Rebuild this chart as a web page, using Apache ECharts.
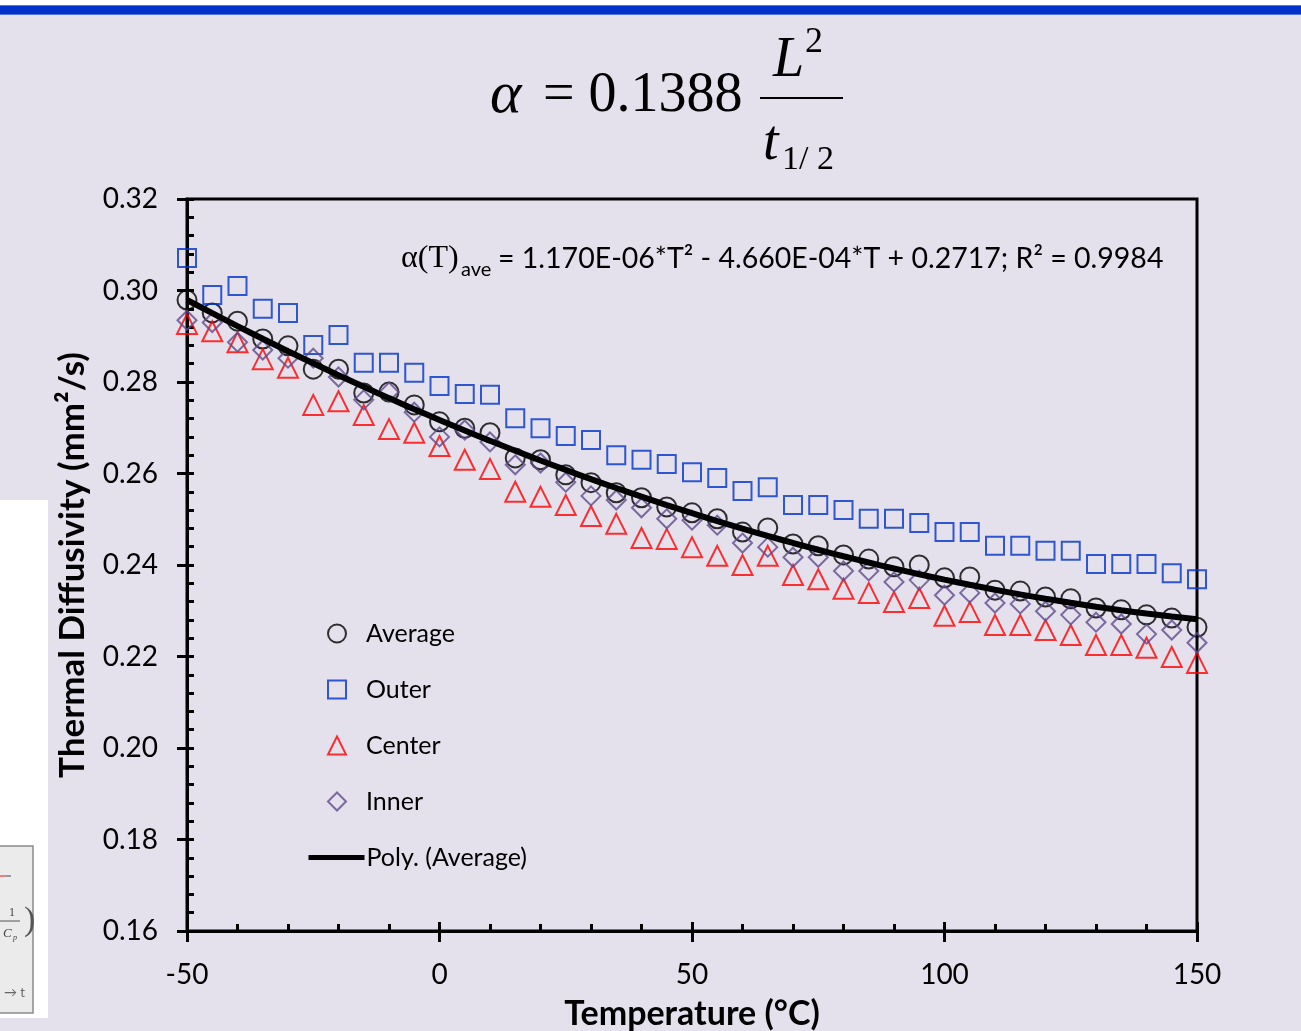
<!DOCTYPE html>
<html>
<head>
<meta charset="utf-8">
<script src="https://cdn.jsdelivr.net/npm/echarts@6/dist/echarts.min.js"></script>
<style>
  html, body { margin: 0; padding: 0; background: #E4E0EC; }
  #chart { width: 1301px; height: 1031px; }
</style>
</head>
<body>
<div id="chart"></div>
<script>
// Temperature steps (°C)
const temperatures = [-50, -45, -40, -35, -30, -25, -20, -15, -10, -5,
  0, 5, 10, 15, 20, 25, 30, 35, 40, 45,
  50, 55, 60, 65, 70, 75, 80, 85, 90, 95,
  100, 105, 110, 115, 120, 125, 130, 135, 140, 145, 150];

// Thermal diffusivity (mm²/s) per sample position
const averageVals = [0.2979, 0.2951, 0.2933, 0.2894, 0.2879, 0.2828, 0.2828, 0.2776, 0.2778, 0.2750,
  0.2713, 0.2699, 0.2689, 0.2634, 0.2630, 0.2597, 0.2580, 0.2558, 0.2547, 0.2527,
  0.2514, 0.2501, 0.2472, 0.2481, 0.2446, 0.2442, 0.2422, 0.2413, 0.2396, 0.2400,
  0.2372, 0.2374, 0.2345, 0.2343, 0.2330, 0.2326, 0.2306, 0.2302, 0.2291, 0.2284, 0.2264];

const outerVals = [0.3071, 0.2990, 0.3010, 0.2960, 0.2951, 0.2881, 0.2903, 0.2842, 0.2842, 0.2820,
  0.2791, 0.2774, 0.2772, 0.2721, 0.2699, 0.2682, 0.2673, 0.2640, 0.2630, 0.2621,
  0.2603, 0.2590, 0.2562, 0.2570, 0.2531, 0.2531, 0.2520, 0.2501, 0.2501, 0.2492,
  0.2472, 0.2472, 0.2442, 0.2442, 0.2431, 0.2431, 0.2402, 0.2402, 0.2402, 0.2382, 0.2369];

const centerVals = [0.2927, 0.2911, 0.2887, 0.2850, 0.2831, 0.2750, 0.2758, 0.2728, 0.2697, 0.2689,
  0.2660, 0.2630, 0.2610, 0.2560, 0.2549, 0.2531, 0.2507, 0.2490, 0.2459, 0.2457,
  0.2439, 0.2420, 0.2400, 0.2420, 0.2378, 0.2369, 0.2348, 0.2339, 0.2319, 0.2328,
  0.2289, 0.2297, 0.2269, 0.2269, 0.2258, 0.2247, 0.2225, 0.2225, 0.2219, 0.2199, 0.2186];

const innerVals = [0.2935, 0.2930, 0.2887, 0.2870, 0.2852, 0.2852, 0.2811, 0.2761, 0.2778, 0.2734,
  0.2680, 0.2695, 0.2669, 0.2619, 0.2623, 0.2581, 0.2551, 0.2542, 0.2525, 0.2501,
  0.2498, 0.2487, 0.2448, 0.2439, 0.2417, 0.2417, 0.2387, 0.2387, 0.2363, 0.2367,
  0.2334, 0.2339, 0.2317, 0.2315, 0.2299, 0.2291, 0.2275, 0.2271, 0.2249, 0.2258, 0.2230];

// Quadratic fit of the average: a*T^2 + b*T + c
const polyCoef = [1.170e-6, -4.660e-4, 0.2717];

const markerNames = ['Average', 'Outer', 'Center', 'Inner'];
const trendName = 'Poly. (Average)';

const FONT = 'Lato, "Open Sans", sans-serif';
const SERIF = '"Liberation Serif", "DejaVu Serif", serif';

function pairs(vals) {
  return temperatures.map((t, i) => [t, vals[i]]);
}
const trendData = temperatures.map(t => [t, polyCoef[0] * t * t + polyCoef[1] * t + polyCoef[2]]);

function marker(name, vals, symbol, size, color) {
  return {
    name: name,
    type: 'scatter',
    data: pairs(vals),
    symbol: symbol,
    symbolSize: size,
    symbolKeepAspect: true,
    itemStyle: { color: 'rgba(0,0,0,0)', borderColor: color, borderWidth: 2 },
    emphasis: { disabled: true },
    z: 3
  };
}

const chart = echarts.init(document.getElementById('chart'), null, { renderer: 'canvas' });

const axisBlack = { color: '#000', width: 3 };
const legendText = { fontSize: 25, color: '#000', fontFamily: FONT };

const option = {
  backgroundColor: '#E4E0EC',
  animation: false,
  textStyle: { fontFamily: FONT },
  grid: {
    left: 187, top: 199, width: 1010, height: 732,
    outerBoundsMode: 'none', containLabel: false,
    show: true, borderColor: '#000', borderWidth: 3, backgroundColor: 'transparent'
  },
  legend: [
    {
      // marker entries: square icon box, text padded to line up with the trend entry
      orient: 'vertical',
      left: 327, top: 621, padding: 0,
      itemWidth: 18, itemHeight: 18, itemGap: 31,
      data: markerNames,
      symbolKeepAspect: true,
      textStyle: Object.assign({ padding: [0, 0, 0, 15] }, legendText),
      selectedMode: false
    },
    {
      orient: 'vertical',
      left: 306, top: 845, padding: 0,
      itemWidth: 56, itemHeight: 18,
      data: [{ name: trendName, itemStyle: { opacity: 0 }, lineStyle: { width: 5, color: '#000' } }],
      textStyle: Object.assign({ padding: [0, 0, 0, -3] }, legendText),
      selectedMode: false
    }
  ],
  xAxis: [
    {
      type: 'value', min: -50, max: 150, interval: 50,
      position: 'bottom',
      axisLine: { onZero: false, lineStyle: axisBlack },
      axisTick: { inside: false, length: 11, lineStyle: axisBlack },
      axisLabel: { margin: 30, fontSize: 28, color: '#000', fontFamily: FONT },
      splitLine: { show: false },
      name: 'Temperature (°C)', nameLocation: 'middle', nameGap: 66,
      nameTextStyle: { fontSize: 34, fontWeight: 'bold', color: '#000', fontFamily: FONT }
    },
    {
      type: 'value', min: -50, max: 150, interval: 50,
      position: 'bottom',
      axisLine: { show: false, onZero: false },
      axisTick: { inside: true, length: 9, lineStyle: axisBlack },
      minorTick: { show: true, splitNumber: 5, length: 7, lineStyle: { color: '#000', width: 3 } },
      axisLabel: { show: false },
      splitLine: { show: false }
    }
  ],
  yAxis: [
    {
      type: 'value', min: 0.16, max: 0.32, interval: 0.02,
      position: 'left',
      axisLine: { onZero: false, lineStyle: axisBlack },
      axisTick: { inside: false, length: 10, lineStyle: axisBlack },
      axisLabel: { margin: 29, fontSize: 28, color: '#000', fontFamily: FONT,
        formatter: v => v.toFixed(2) },
      splitLine: { show: false },
      name: 'Thermal Diffusivity (mm²/s)', nameLocation: 'middle', nameGap: 97,
      nameTextStyle: { fontSize: 35, fontWeight: 'bold', color: '#000', fontFamily: FONT }
    },
    {
      type: 'value', min: 0.16, max: 0.32, interval: 0.02,
      position: 'left',
      axisLine: { show: false, onZero: false },
      axisTick: { inside: true, length: 7, lineStyle: axisBlack },
      minorTick: { show: true, splitNumber: 5, length: 7, lineStyle: { color: '#000', width: 3 } },
      axisLabel: { show: false },
      splitLine: { show: false }
    }
  ],
  series: [
    marker('Average', averageVals, 'circle', 19, '#000000'),
    marker('Outer', outerVals, 'rect', 18, '#0033CC'),
    marker('Center', centerVals, 'triangle', 20, '#FF0000'),
    marker('Inner', innerVals, 'diamond', 19, '#5F4B8B'),
    {
      name: trendName,
      type: 'line',
      data: trendData,
      smooth: true,
      symbol: 'none',
      itemStyle: { color: '#000' },
      lineStyle: { color: '#000', width: 6 },
      emphasis: { disabled: true },
      z: 4
    }
  ],
  graphic: [
    // slide header strip
    { type: 'rect', shape: { x: 0, y: 0, width: 1301, height: 5 }, style: { fill: '#FFFFFF' }, silent: true },
    { type: 'rect', shape: { x: 0, y: 5, width: 1301, height: 10 }, style: { fill: '#0033CC' }, silent: true },
    { type: 'rect', shape: { x: 0, y: 5, width: 1301, height: 1 }, style: { fill: '#5577DD' }, silent: true },
    { type: 'rect', shape: { x: 0, y: 14, width: 1301, height: 1 }, style: { fill: '#5577DD' }, silent: true },

    // method formula
    { type: 'text', x: 490, y: 96, style: { text: 'α', font: 'italic 60px ' + SERIF, fill: '#000', verticalAlign: 'middle' } },
    { type: 'text', x: 543, y: 96, style: { text: '= 0.1388', font: '56px ' + SERIF, fill: '#000', verticalAlign: 'middle' } },
    { type: 'text', x: 773, y: 61, style: { text: 'L', font: 'italic 56px ' + SERIF, fill: '#000', verticalAlign: 'middle' } },
    { type: 'text', x: 805, y: 43, style: { text: '2', font: '36px ' + SERIF, fill: '#000', verticalAlign: 'middle' } },
    { type: 'line', shape: { x1: 760, y1: 98, x2: 843, y2: 98 }, style: { stroke: '#000', lineWidth: 2 } },
    { type: 'text', x: 763, y: 144, style: { text: 't', font: 'italic 56px ' + SERIF, fill: '#000', verticalAlign: 'middle' } },
    { type: 'text', x: 782, y: 160, style: { text: '1/ 2', font: '34px ' + SERIF, fill: '#000', verticalAlign: 'middle' } },

    // fit equation inside the plot
    { type: 'text', x: 401, y: 259, z: 10, style: { text: 'α(T)', font: '32px ' + SERIF, fill: '#000', verticalAlign: 'middle' } },
    { type: 'text', x: 461, y: 270, z: 10, style: { text: 'ave', font: '20px ' + FONT, fill: '#000', verticalAlign: 'middle' } },
    { type: 'text', x: 498, y: 259, z: 10, style: { text: '= 1.170E-06*T² - 4.660E-04*T + 0.2717; R² = 0.9984', font: '28.5px ' + FONT, fill: '#000', verticalAlign: 'middle' } },

    // neighbouring slide panel on the left edge
    { type: 'rect', shape: { x: 0, y: 500, width: 48, height: 518 }, style: { fill: '#FFFFFF' }, silent: true },
    { type: 'rect', shape: { x: -2, y: 846, width: 35, height: 167 }, style: { fill: '#EBEBEB', stroke: '#8A8A8A', lineWidth: 1.5 }, silent: true },
    { type: 'line', shape: { x1: 0, y1: 876, x2: 6, y2: 876 }, style: { stroke: '#F08080', lineWidth: 2 } },
    { type: 'line', shape: { x1: 6, y1: 876, x2: 11, y2: 876 }, style: { stroke: '#9A9A9A', lineWidth: 2 } },
    { type: 'text', x: 9, y: 913, style: { text: '1', font: '12px ' + SERIF, fill: '#444', verticalAlign: 'middle' } },
    { type: 'line', shape: { x1: 0, y1: 921, x2: 20, y2: 921 }, style: { stroke: '#555', lineWidth: 1 } },
    { type: 'text', x: 3, y: 934, style: { text: 'C', font: 'italic 13px ' + SERIF, fill: '#444', verticalAlign: 'middle' } },
    { type: 'text', x: 13, y: 938, style: { text: 'p', font: 'italic 8px ' + SERIF, fill: '#444', verticalAlign: 'middle' } },
    { type: 'text', x: 24, y: 921, style: { text: ')', font: '34px ' + SERIF, fill: '#555', verticalAlign: 'middle' } },
    { type: 'text', x: 4, y: 993, style: { text: '→ t', font: '13px ' + FONT, fill: '#666', verticalAlign: 'middle' } }
  ]
};

chart.setOption(option);
</script>
</body>
</html>
